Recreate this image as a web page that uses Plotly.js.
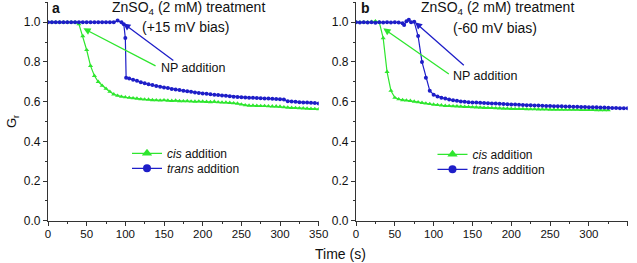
<!DOCTYPE html>
<html><head><meta charset="utf-8">
<script src="https://cdn.plot.ly/plotly-3.0.1.min.js"></script>
<style>html,body{margin:0;padding:0;background:#fff}#c{width:637px;height:263px}</style>
</head><body><div id="c"></div>
<script>
// ---- data ----
const seriesNames = ['<i>cis</i> addition', '<i>trans</i> addition'];
const xTickVals = [0, 50, 100, 150, 200, 250, 300, 350];
const yTickVals = [0.0, 0.2, 0.4, 0.6, 0.8, 1.0];

// Panel a (+15 mV bias)
const timeCisA = [0,5,10,15,20,25,30,35,40,45,50,55,60,65,70,75,80,85,90,95,100,105,110,115,120,125,130,135,140,145,150,155,160,165,170,175,180,185,190,195,200,205,210,215,220,225,230,235,240,245,250,255,260,265,270,275,280,285,290,295,300,305,310,315,320,325,330,335,340,345,350];
const cisA = [1.0,1.0,1.0,1.0,1.0,1.0,1.0,1.0,0.99,0.93,0.86,0.78,0.73,0.70,0.68,0.665,0.65,0.637,0.63,0.625,0.622,0.62,0.617,0.615,0.612,0.611,0.61,0.608,0.607,0.606,0.607,0.605,0.604,0.605,0.603,0.602,0.603,0.601,0.6,0.601,0.6,0.599,0.598,0.6,0.597,0.596,0.596,0.594,0.592,0.59,0.586,0.582,0.58,0.58,0.579,0.578,0.578,0.577,0.576,0.576,0.575,0.572,0.57,0.569,0.568,0.567,0.566,0.565,0.564,0.563,0.562];

const timeTransA = [0,5,10,15,20,25,30,35,40,45,50,55,60,65,70,75,80,85,90,95,98,100,101,105,110,115,120,125,130,135,140,145,150,155,160,165,170,175,180,185,190,195,200,205,210,215,220,225,230,235,240,245,250,255,260,265,270,275,280,285,290,295,300,305,310,315,320,325,330,335,340,345,350];
const transA = [1.0,1.0,1.0,1.0,1.0,1.0,1.0,1.0,1.0,1.0,1.0,1.0,1.0,1.0,1.0,1.0,1.0,1.0,1.008,1.0,0.99,0.92,0.72,0.716,0.71,0.705,0.698,0.693,0.687,0.683,0.679,0.675,0.671,0.668,0.664,0.661,0.658,0.655,0.652,0.649,0.646,0.643,0.641,0.639,0.637,0.635,0.633,0.631,0.629,0.627,0.625,0.623,0.622,0.621,0.62,0.619,0.618,0.617,0.616,0.615,0.614,0.613,0.612,0.611,0.602,0.6,0.599,0.597,0.596,0.595,0.594,0.593,0.591];

// Panel b (-60 mV bias)
const timeCisB = [0,5,10,15,20,25,30,35,40,45,50,55,60,65,70,75,80,85,90,95,100,105,110,115,120,125,130,135,140,145,150,155,160,165,170,175,180,185,190,195,200,205,210,215,220,225,230,235,240,245,250,255,260,265,270,275,280,285,290,295,300,305,310,315,320,325];
const cisB = [1.0,1.0,1.0,1.0,1.002,1.005,1.0,0.92,0.75,0.655,0.62,0.612,0.608,0.606,0.604,0.6,0.597,0.594,0.591,0.588,0.585,0.583,0.581,0.579,0.578,0.577,0.576,0.575,0.574,0.573,0.572,0.571,0.57,0.569,0.568,0.568,0.567,0.566,0.565,0.565,0.564,0.563,0.563,0.563,0.562,0.562,0.562,0.561,0.561,0.561,0.56,0.56,0.56,0.56,0.559,0.559,0.559,0.559,0.558,0.558,0.558,0.558,0.557,0.557,0.557,0.557];

const timeTransB = [0,5,10,15,20,25,30,35,40,45,50,55,60,62,65,68,71,75,80,85,90,95,100,105,110,115,120,125,130,135,140,145,150,155,160,165,170,175,180,185,190,195,200,205,210,215,220,225,230,235,240,245,250,255,260,265,270,275,280,285,290,295,300,305,310,315,320,325,330,335,340,345,350];
const transB = [1.0,0.998,1.0,0.998,1.0,0.997,1.0,0.998,1.0,0.998,1.0,0.998,0.995,0.986,1.005,1.012,1.0,1.002,0.93,0.80,0.72,0.655,0.635,0.626,0.62,0.616,0.61,0.607,0.604,0.601,0.599,0.597,0.596,0.595,0.594,0.593,0.592,0.591,0.59,0.589,0.588,0.587,0.586,0.585,0.584,0.583,0.582,0.581,0.58,0.58,0.579,0.578,0.578,0.577,0.577,0.576,0.575,0.575,0.574,0.574,0.573,0.573,0.572,0.572,0.571,0.57,0.57,0.569,0.568,0.568,0.567,0.567,0.566];

// ---- styling ----
const FONT = 'Liberation Sans, Arial, Helvetica, sans-serif';
const GREEN = '#2ee62e';
const BLUE = '#1e1ec8';
const AX = '#333333';
const W = 637, H = 263;
const px = v => v / W;
const py = v => 1 - v / H;

function line(x, y, color, sym, size, xa, ya) {
  return {x: x, y: y, xaxis: xa, yaxis: ya, type: 'scatter', mode: 'lines+markers',
    line: {color: color, width: 1.2},
    marker: {symbol: sym, size: size, color: color},
    showlegend: false, hoverinfo: 'skip'};
}
function legItem(name, color, sym, size, legend) {
  return {x: [null], y: [null], type: 'scatter', mode: 'lines+markers', name: name,
    legend: legend, line: {color: color, width: 1.2},
    marker: {symbol: sym, size: size, color: color, line: {color: color, width: 0}},
    showlegend: true};
}

const traces = [
  line(timeCisA, cisA, GREEN, 'triangle-up', 4.5, 'x', 'y'),
  line(timeTransA, transA, BLUE, 'circle', 4, 'x', 'y'),
  line(timeCisB, cisB, GREEN, 'triangle-up', 4.5, 'x2', 'y2'),
  line(timeTransB, transB, BLUE, 'circle', 4, 'x2', 'y2'),
  legItem(seriesNames[0], GREEN, 'triangle-up', 9, 'legend'),
  legItem(seriesNames[1], BLUE, 'circle', 8, 'legend2'),
  legItem(seriesNames[0], GREEN, 'triangle-up', 9, 'legend3'),
  legItem(seriesNames[1], BLUE, 'circle', 8, 'legend4')
];

function xAxis(domain, anchor) {
  return {domain: domain, anchor: anchor, range: [0, 350], tickvals: xTickVals,
    ticks: 'outside', ticklen: 4, tickwidth: 1, tickcolor: AX, ticklabelstandoff: -2,
    showline: true, linecolor: AX, linewidth: 1.2, showgrid: false, zeroline: false,
    tickfont: {family: FONT, size: 11.5, color: '#111'},
    minor: {dtick: 25, tick0: 0, ticks: 'outside', ticklen: 2, tickcolor: AX, showgrid: false}};
}
function yAxis(domain, anchor) {
  return {domain: domain, anchor: anchor, range: [0, 1.1], tickvals: yTickVals, tickformat: '.1f',
    ticks: 'outside', ticklen: 4, tickwidth: 1, tickcolor: AX,
    showline: true, linecolor: AX, linewidth: 1.2, showgrid: false, zeroline: false,
    tickfont: {family: FONT, size: 12, color: '#111'},
    minor: {dtick: 0.1, tick0: 0, ticks: 'outside', ticklen: 2, tickcolor: AX, showgrid: false}};
}

const yDom = [1 - 220.7 / H, 1 - 2.35 / H];

function txt(text, x, y, size, extra) {
  return Object.assign({text: text, xref: 'paper', yref: 'paper', x: px(x), y: py(y),
    xanchor: 'center', yanchor: 'middle', showarrow: false,
    font: {family: FONT, size: size, color: '#111'}}, extra || {});
}
function arrow(xh, yh, xt, yt, color, xa, ya) {
  return {text: ' ', x: xh, y: yh, ax: xt, ay: yt, xref: xa, yref: ya, axref: xa, ayref: ya,
    showarrow: true, arrowhead: 2, arrowsize: 1.1, arrowwidth: 1.3, arrowcolor: color, standoff: 0,
    font: {size: 1}};
}

function leg(x, y) {
  return {x: px(x), y: py(y), xanchor: 'left', yanchor: 'middle', bgcolor: 'rgba(0,0,0,0)',
    borderwidth: 0, font: {family: FONT, size: 12, color: '#111'}, itemclick: false};
}

const layout = {
  width: W, height: H, margin: {l: 0, r: 0, t: 0, b: 0},
  paper_bgcolor: '#fff', plot_bgcolor: '#fff',
  font: {family: FONT, color: '#111'},
  xaxis: xAxis([48 / W, 318.7 / W], 'y'),
  yaxis: yAxis(yDom, 'x'),
  xaxis2: xAxis([356 / W, 627.7 / W], 'y2'),
  yaxis2: yAxis(yDom, 'x2'),
  legend: leg(127, 153.3),
  legend2: leg(127, 168.3),
  legend3: leg(432.5, 154.3),
  legend4: leg(432.5, 169.3),
  annotations: [
    txt('<b>a</b>', 56, 8, 14),
    txt('<b>b</b>', 365, 8, 14),
    txt('ZnSO<sub>4</sub> (2 mM) treatment', 188.3, 8, 14),
    txt('(+15 mV bias)', 185.8, 27.5, 14),
    txt('ZnSO<sub>4</sub> (2 mM) treatment', 497.8, 8, 14),
    txt('(-60 mV bias)', 495, 27.8, 14),
    txt('NP addition', 193.3, 68.3, 12.5),
    txt('NP addition', 484.5, 76, 12.5),
    txt('G<sub>r</sub>', 12, 121, 13, {textangle: -90}),
    txt('Time (s)', 340, 253.5, 14),
    arrow(45.7, 0.969, 141, 0.776, GREEN, 'x', 'y'),
    arrow(97.4, 0.994, 164, 0.801, BLUE, 'x', 'y'),
    arrow(35.2, 0.969, 121.5, 0.734, GREEN, 'x2', 'y2'),
    arrow(76, 1.0, 140.8, 0.776, BLUE, 'x2', 'y2')
  ]
};

Plotly.newPlot('c', traces, layout, {staticPlot: true, displayModeBar: false});
</script></body></html>
